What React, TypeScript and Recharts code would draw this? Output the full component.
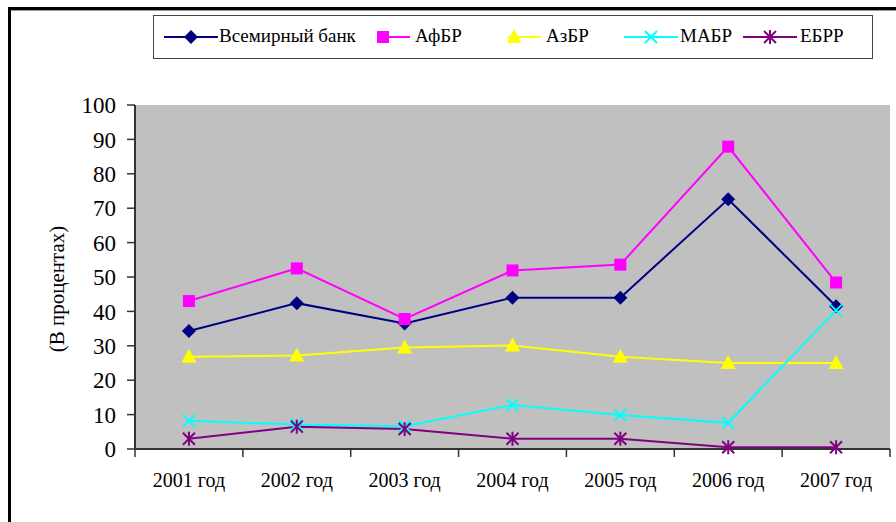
import { LineChart, Line, XAxis, YAxis, CartesianGrid } from "recharts";

const years = ["2001 год", "2002 год", "2003 год", "2004 год", "2005 год", "2006 год", "2007 год"];
const worldBank = [34.3, 42.4, 36.5, 44, 44, 72.6, 41.5];
const afdb = [43, 52.5, 37.8, 51.9, 53.6, 87.9, 48.4];
const asdb = [26.8, 27.2, 29.5, 30.1, 26.8, 25, 25];
const iadb = [8.2, 7.1, 6.6, 12.8, 9.9, 7.6, 40.3];
const ebrd = [3.0, 6.5, 5.8, 3.0, 3.0, 0.5, 0.5];
const yTicks = [0, 10, 20, 30, 40, 50, 60, 70, 80, 90, 100];

const data = years.map((year, i) => ({
  year,
  wb: worldBank[i],
  afdb: afdb[i],
  asdb: asdb[i],
  iadb: iadb[i],
  ebrd: ebrd[i],
}));

const FONT = '"Liberation Serif", "Times New Roman", serif';
const AXIS = "#333";

type Shape = "diamond" | "square" | "triangle" | "cross" | "star";

function Marker({ cx, cy, shape, color }: { cx: number; cy: number; shape: Shape; color: string }) {
  if (cx == null || cy == null) return null;
  switch (shape) {
    case "diamond":
      return <polygon points={`${cx},${cy - 7} ${cx + 7},${cy} ${cx},${cy + 7} ${cx - 7},${cy}`} fill={color} />;
    case "square":
      return <rect x={cx - 6} y={cy - 6} width={12} height={12} fill={color} />;
    case "triangle":
      return <polygon points={`${cx},${cy - 8} ${cx + 7.5},${cy + 6} ${cx - 7.5},${cy + 6}`} fill={color} />;
    case "cross":
      return (
        <g stroke={color} strokeWidth={2}>
          <line x1={cx - 6} y1={cy - 6} x2={cx + 6} y2={cy + 6} />
          <line x1={cx - 6} y1={cy + 6} x2={cx + 6} y2={cy - 6} />
        </g>
      );
    case "star":
      return (
        <g stroke={color} strokeWidth={2}>
          <line x1={cx - 6} y1={cy - 6} x2={cx + 6} y2={cy + 6} />
          <line x1={cx - 6} y1={cy + 6} x2={cx + 6} y2={cy - 6} />
          <line x1={cx} y1={cy - 7} x2={cx} y2={cy + 7} />
        </g>
      );
  }
  return null;
}

const series: { key: string; name: string; color: string; shape: Shape }[] = [
  { key: "wb", name: "Всемирный банк", color: "#000080", shape: "diamond" },
  { key: "afdb", name: "АфБР", color: "#FF00FF", shape: "square" },
  { key: "asdb", name: "АзБР", color: "#FFFF00", shape: "triangle" },
  { key: "iadb", name: "МАБР", color: "#00FFFF", shape: "cross" },
  { key: "ebrd", name: "ЕБРР", color: "#800080", shape: "star" },
];

// legend item placement inside the legend box (icon start, icon clip start, text start)
const legendLayout = [
  { icon: 10, clip: 0, text: 65 },
  { icon: 202, clip: 21, text: 261 },
  { icon: 333, clip: 21, text: 392 },
  { icon: 470, clip: 0, text: 526 },
  { icon: 589, clip: 0, text: 646 },
];

function LegendBox() {
  return (
    <div
      style={{
        position: "absolute",
        left: 153,
        top: 15,
        width: 718,
        height: 42,
        border: "1.5px solid #444",
        background: "#fff",
        fontFamily: FONT,
        fontSize: 19,
      }}
    >
      {series.map((s, i) => {
        const l = legendLayout[i];
        return (
          <div key={s.key}>
            <svg
              width={54 - l.clip}
              height={20}
              style={{ position: "absolute", left: l.icon + l.clip, top: 11 }}
              viewBox={`${l.clip} 0 ${54 - l.clip} 20`}
            >
              <line x1={0} y1={10} x2={54} y2={10} stroke={s.color} strokeWidth={2} />
              <Marker cx={27} cy={10} shape={s.shape} color={s.color} />
            </svg>
            <span style={{ position: "absolute", left: l.text, top: 9, lineHeight: "22px", color: "#000" }}>
              {s.name}
            </span>
          </div>
        );
      })}
    </div>
  );
}

// category label plus tick marks on the category boundaries
function YearTick(props: any) {
  const { x, y, payload, index, visibleTicksCount } = props;
  const half = payload.offset || 0;
  const top = y - 24;
  return (
    <g>
      <line x1={x - half} y1={top} x2={x - half} y2={top + 8} stroke={AXIS} strokeWidth={1.5} />
      {index === visibleTicksCount - 1 && (
        <line x1={x + half} y1={top} x2={x + half} y2={top + 8} stroke={AXIS} strokeWidth={1.5} />
      )}
      <text x={x} y={y} dy="0.71em" textAnchor="middle" fontFamily={FONT} fontSize={20} fill="#000">
        {payload.value}
      </text>
    </g>
  );
}

function YTitle(props: any) {
  const vb = props.viewBox || {};
  const x = 57;
  const y = vb.y + vb.height / 2 + 12;
  return (
    <text
      x={x}
      y={y}
      transform={`rotate(-90, ${x}, ${y})`}
      textAnchor="middle"
      dominantBaseline="central"
      fontFamily={FONT}
      fontSize={21}
      fill="#000"
    >
      (В процентах)
    </text>
  );
}

export default function App() {
  return (
    <div style={{ position: "absolute", left: 0, top: 0, width: 896, height: 522, overflow: "hidden", background: "#fff" }}>
      <div
        style={{
          position: "absolute",
          left: 8,
          top: 7,
          width: 900,
          height: 530,
          borderTop: "3px solid #000",
          borderLeft: "3px solid #000",
          boxShadow: "inset 0 1px 0 #999",
        }}
      />
      <div style={{ position: "absolute", left: 0, top: 0 }}>
        <LineChart width={896} height={522} data={data} margin={{ top: 105, right: 6, bottom: 0, left: 10 }}>
          <CartesianGrid horizontal={false} vertical={false} fill="#C0C0C0" fillOpacity={1} />
          <XAxis
            dataKey="year"
            scale="band"
            height={73}
            axisLine={{ stroke: AXIS, strokeWidth: 2 }}
            tickLine={false}
            tickSize={0}
            tickMargin={24}
            interval={0}
            tick={<YearTick />}
          />
          <XAxis
            xAxisId="top"
            dataKey="year"
            orientation="top"
            height={0}
            tick={false}
            tickLine={false}
            axisLine={{ stroke: "#808080", strokeWidth: 2 }}
          />
          <YAxis
            domain={[0, 100]}
            ticks={yTicks}
            width={125}
            tickSize={8}
            tickMargin={11}
            interval={0}
            tick={{ fontFamily: FONT, fontSize: 23, fill: "#000" }}
            tickLine={{ stroke: AXIS, strokeWidth: 1.5 }}
            axisLine={{ stroke: AXIS, strokeWidth: 2 }}
            label={<YTitle />}
          />
          <YAxis
            yAxisId="right"
            orientation="right"
            domain={[0, 100]}
            width={0}
            tick={false}
            tickLine={false}
            axisLine={{ stroke: "#808080", strokeWidth: 2 }}
          />
          {series.map((s) => (
            <Line
              key={s.key}
              dataKey={s.key}
              name={s.name}
              type="linear"
              stroke={s.color}
              strokeWidth={2}
              isAnimationActive={false}
              dot={(p: any) => <Marker key={`${s.key}-${p.index}`} cx={p.cx} cy={p.cy} shape={s.shape} color={s.color} />}
              activeDot={false}
            />
          ))}
        </LineChart>
      </div>
      <LegendBox />
    </div>
  );
}
